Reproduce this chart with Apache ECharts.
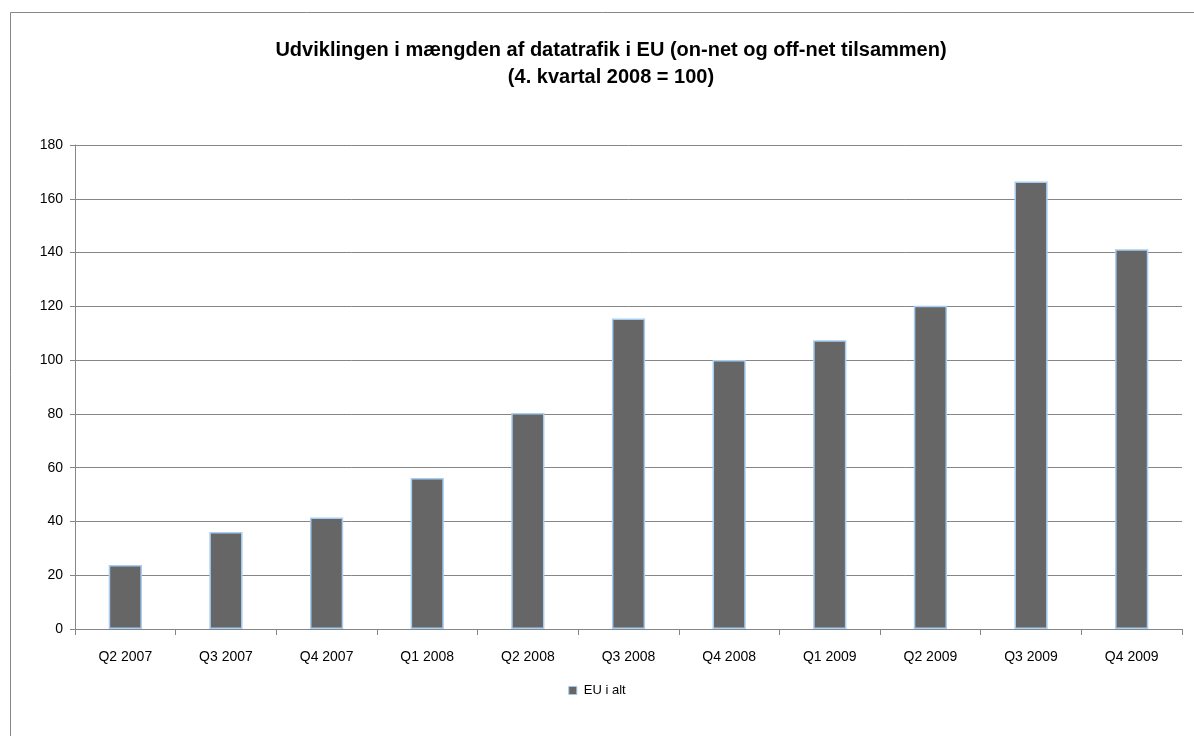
<!DOCTYPE html>
<html><head><meta charset="utf-8">
<script src="https://cdn.jsdelivr.net/npm/echarts@6/dist/echarts.min.js"></script>
<style>html,body{margin:0;padding:0;background:#fff}#c{width:1194px;height:736px}</style>
</head><body><div id="c"></div>
<script>
const categories = ['Q2 2007','Q3 2007','Q4 2007','Q1 2008','Q2 2008','Q3 2008','Q4 2008','Q1 2009','Q2 2009','Q3 2009','Q4 2009'];
const euTotal = [23.8, 36.1, 41.5, 56.2, 80.3, 115.5, 100, 107.4, 120.2, 166.4, 141.2];
const seriesName = 'EU i alt';
const titleText = 'Udviklingen i mængden af datatrafik i EU (on-net og off-net tilsammen)\n(4. kvartal 2008 = 100)';

const chart = echarts.init(document.getElementById('c'));
const font = 'Liberation Sans, Arial, sans-serif';
chart.setOption({
  animation: false,
  backgroundColor: '#fff',
  graphic: [{type:'rect', shape:{x:10.5,y:12.5,width:1200,height:740}, style:{fill:'none',stroke:'#878787',lineWidth:1}, silent:true}],
  title: {
    text: titleText, left: 606, top: 32, textAlign: 'center',
    textStyle: {fontFamily: font, fontWeight: 'bold', fontSize: 20, lineHeight: 27, color: '#000'}
  },
  legend: {
    data: [seriesName], bottom: 34, left: 'center', itemWidth: 8, itemHeight: 8, itemGap: 4,
    icon: 'rect',
    textStyle: {fontFamily: font, fontSize: 13, color: '#000', padding: [0,0,0,2]},
    itemStyle: {borderColor: '#9cc5f0', borderWidth: 1}
  },
  grid: {left: 75, right: 12, top: 145, bottom: 107, containLabel: false},
  xAxis: {
    type: 'category', data: categories, boundaryGap: true,
    axisLine: {lineStyle: {color: '#868686', width: 1}},
    axisTick: {show: true, length: 6, lineStyle: {color: '#868686'}},
    axisLabel: {fontFamily: font, fontSize: 14, color: '#000', margin: 21}
  },
  yAxis: {
    type: 'value', min: 0, max: 180, interval: 20,
    axisLine: {show: true, lineStyle: {color: '#868686'}},
    axisTick: {show: true, length: 5, lineStyle: {color: '#868686'}},
    axisLabel: {fontFamily: font, fontSize: 14, color: '#000', margin: 12},
    splitLine: {lineStyle: {color: '#868686', width: 1}}
  },
  series: [{
    name: seriesName, type: 'bar', data: euTotal, barWidth: '33%',
    itemStyle: {color: '#666666', borderColor: '#a6cdf3', borderWidth: 1.5}
  }]
});
</script></body></html>
